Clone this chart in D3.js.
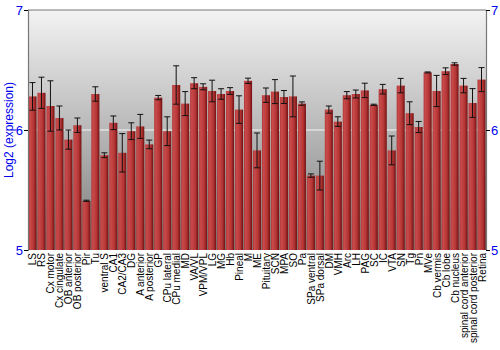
<!DOCTYPE html>
<html>
<head>
<meta charset="utf-8">
<script src="https://cdn.jsdelivr.net/npm/d3@7"></script>
<style>
  body { margin: 0; background: #fff; }
  text { font-family: "Liberation Sans", Arial, sans-serif; }
</style>
</head>
<body>
<svg id="chart" width="500" height="350"></svg>
<script>
// tissue names along the x axis
const regions = ["LS", "RS", "Cx motor", "Cx cingulate", "OB anterior", "OB posterior", "Pir", "Tu",
  "ventral S", "CA1", "CA2/CA3", "DG", "A anterior", "A posterior", "GP", "CPu lateral", "CPu medial",
  "MD", "VA/VL", "VPM/VPL", "LG", "MG", "Hb", "Pineal", "M", "ME", "Pituitary", "SCN", "MPA", "SO",
  "Pa", "SPa ventral", "SPa dorsal", "DM", "VMH", "Arc", "LH", "PAG", "SC", "IC", "VTA", "SN", "Tg",
  "Pn", "MVe", "Cb vermis", "Cb lobe", "Cb nucleus", "spinal cord anterior", "spinal cord posterior", "Retina"];

// mean log2 expression
const means = [6.28, 6.31, 6.20, 6.10, 5.92, 6.04, 5.41, 6.30,
  5.79, 6.06, 5.81, 5.99, 6.03, 5.88, 6.27, 5.99, 6.375,
  6.22, 6.39, 6.36, 6.325, 6.30, 6.325, 6.17, 6.41, 5.83, 6.29, 6.32, 6.275, 6.28,
  6.22, 5.62, 5.62, 6.17, 6.07, 6.29, 6.30, 6.33, 6.21, 6.34, 5.83, 6.37, 6.14,
  6.025, 6.48, 6.325, 6.49, 6.55, 6.37, 6.225, 6.42];

// error (+/-)
const errs = [0.115, 0.13, 0.21, 0.10, 0.08, 0.06, 0.005, 0.06,
  0.02, 0.057, 0.16, 0.07, 0.10, 0.036, 0.018, 0.12, 0.16,
  0.10, 0.046, 0.025, 0.09, 0.044, 0.028, 0.115, 0.022, 0.145, 0.06, 0.10, 0.054, 0.17,
  0.014, 0.014, 0.12, 0.03, 0.04, 0.03, 0.033, 0.06, 0.005, 0.04, 0.12, 0.06, 0.095,
  0.046, 0.004, 0.13, 0.028, 0.01, 0.06, 0.12, 0.10];

const yTicks = [5, 6, 7];

var svg = d3.select("svg#chart"),
    margin = {top: 10, right: 14, bottom: 100, left: 28},
    width = +svg.attr("width") - margin.left - margin.right,
    height = +svg.attr("height") - margin.top - margin.bottom;

var x = d3.scaleBand()
          .domain(regions)
          .range([margin.left, margin.left + width])
          .paddingInner(0.1)
          .paddingOuter(0.05);

var y = d3.scaleLinear()
          .domain([5, 7])
          .range([margin.top + height, margin.top]);

var defs = svg.append("defs");

var bg = defs.append("linearGradient")
             .attr("id", "bg").attr("x1", 0).attr("y1", 0).attr("x2", 0).attr("y2", 1);
bg.append("stop").attr("offset", "0%").attr("stop-color", "#f3f3f3");
bg.append("stop").attr("offset", "100%").attr("stop-color", "#7c7c7c");

var barGrad = defs.append("linearGradient")
                  .attr("id", "bar").attr("x1", 0).attr("y1", 0).attr("x2", 1).attr("y2", 0);
barGrad.append("stop").attr("offset", "0%").attr("stop-color", "#b03838");
barGrad.append("stop").attr("offset", "20%").attr("stop-color", "#c84a4a");
barGrad.append("stop").attr("offset", "65%").attr("stop-color", "#b53535");
barGrad.append("stop").attr("offset", "100%").attr("stop-color", "#701010");

// plot background
svg.append("rect")
   .attr("x", margin.left).attr("y", margin.top)
   .attr("width", width).attr("height", height)
   .attr("fill", "url(#bg)");

// grid line at 6
svg.append("line")
   .attr("x1", margin.left).attr("x2", margin.left + width)
   .attr("y1", y(6)).attr("y2", y(6))
   .attr("stroke", "#f4f4f4").attr("stroke-width", 1.2);

// top border
svg.append("line")
   .attr("x1", margin.left).attr("x2", margin.left + width)
   .attr("y1", margin.top).attr("y2", margin.top)
   .attr("stroke", "#777");

// bars
var bars = svg.append("g").selectAll("g")
  .data(regions)
  .enter().append("g");

bars.append("rect")
    .attr("x", d => x(d))
    .attr("width", x.bandwidth())
    .attr("y", (d, i) => y(means[i]))
    .attr("height", (d, i) => y(5) - y(means[i]))
    .attr("fill", "url(#bar)");

// error bars
var capW = 3;
bars.append("line")
    .attr("x1", d => x(d) + x.bandwidth() / 2)
    .attr("x2", d => x(d) + x.bandwidth() / 2)
    .attr("y1", (d, i) => y(means[i] + errs[i]))
    .attr("y2", (d, i) => y(means[i] - errs[i]))
    .attr("stroke", "#111").attr("stroke-width", 1);
bars.append("line")
    .attr("x1", d => x(d) + x.bandwidth() / 2 - capW)
    .attr("x2", d => x(d) + x.bandwidth() / 2 + capW)
    .attr("y1", (d, i) => y(means[i] + errs[i]))
    .attr("y2", (d, i) => y(means[i] + errs[i]))
    .attr("stroke", "#111").attr("stroke-width", 1);
bars.append("line")
    .attr("x1", d => x(d) + x.bandwidth() / 2 - capW)
    .attr("x2", d => x(d) + x.bandwidth() / 2 + capW)
    .attr("y1", (d, i) => y(means[i] - errs[i]))
    .attr("y2", (d, i) => y(means[i] - errs[i]))
    .attr("stroke", "#111").attr("stroke-width", 1);

// AXES
var yAxisL = d3.axisLeft(y).tickValues(yTicks).tickSize(4).tickFormat(d3.format("d"));
var yAxisR = d3.axisRight(y).tickValues(yTicks).tickSize(4).tickFormat(d3.format("d"));

var gl = svg.append("g")
   .attr("transform", `translate(${margin.left},0)`)
   .call(yAxisL);
var gr = svg.append("g")
   .attr("transform", `translate(${margin.left + width},0)`)
   .call(yAxisR);

[gl, gr].forEach(g => {
  g.select(".domain").attr("stroke", "#777").attr("stroke-width", 1.2);
  g.selectAll(".tick line").attr("stroke", "#000");
  g.selectAll(".tick text")
   .attr("fill", "#0000ee")
   .style("font-size", "13px")
   .style("font-family", "Liberation Sans, Arial, sans-serif");
});
gl.selectAll(".tick text").attr("x", -5);
gr.selectAll(".tick text").attr("x", 5);

// x labels
svg.append("g").selectAll("text")
   .data(regions)
   .enter().append("text")
   .attr("transform", d => `translate(${x(d) + x.bandwidth() / 2 + 4},${margin.top + height + 3}) rotate(-90)`)
   .attr("text-anchor", "end")
   .style("font-size", "10px")
   .attr("fill", "#000")
   .text(d => d);

// y title
svg.append("text")
   .attr("transform", `translate(13,${margin.top + height / 2}) rotate(-90)`)
   .attr("text-anchor", "middle")
   .attr("fill", "#0000ee")
   .style("font-size", "12px")
   .text("Log2 (expression)");
</script>
</body>
</html>
